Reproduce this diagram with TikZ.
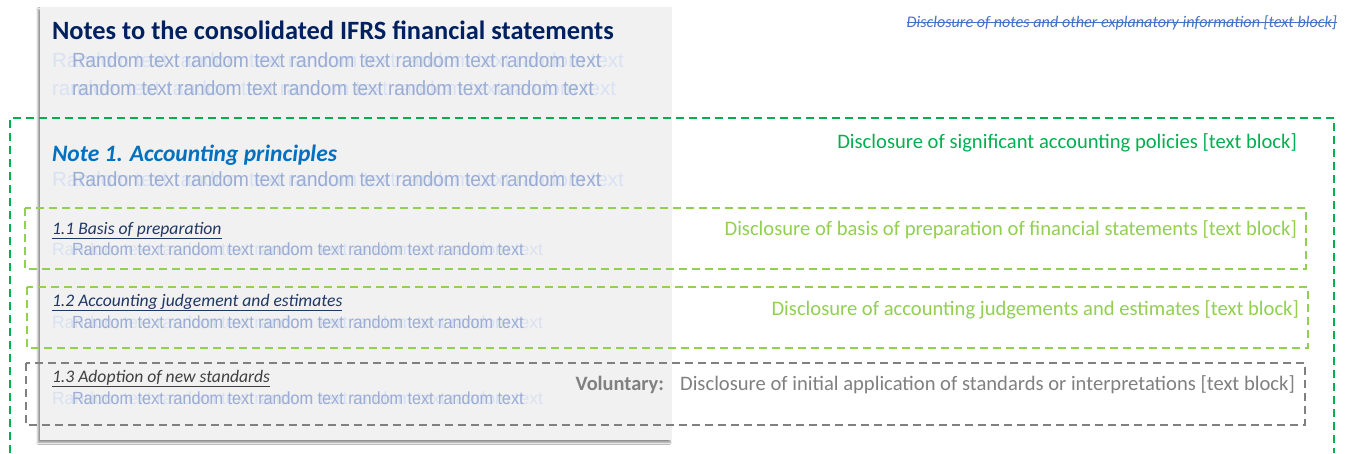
\documentclass[tikz,border=0pt]{standalone}
\usepackage{fontspec}
\setmainfont{Carlito}
\newfontfamily\rfont{Liberation Sans}
\usetikzlibrary{shadows.blur}
\definecolor{navy}{HTML}{002060}
\definecolor{noteblue}{HTML}{0070C0}
\definecolor{subnavy}{HTML}{1F3864}
\definecolor{darkgray}{HTML}{404040}
\definecolor{midgray}{HTML}{808080}
\definecolor{sgreen}{HTML}{00B050}
\definecolor{lgreen}{HTML}{92D050}
\definecolor{linkblue}{HTML}{4472C4}
\definecolor{panelgray}{HTML}{F1F1F1}
\definecolor{faintblue}{HTML}{D9E2F3}
\definecolor{ghostblue}{HTML}{8EA2CF}
\tikzset{
  txt/.style={inner sep=0pt, outer sep=0pt},
  dashbox/.style={line width=1.6pt, dash pattern=on 8pt off 5pt},
  faint/.style={txt, text=faintblue},
  ghost/.style={txt, text=ghostblue, opacity=0.85},
  bigr/.style={font=\rfont\fontsize{20.5}{24}\selectfont},
  smallr/.style={font=\rfont\fontsize{17.6}{21}\selectfont},
  subhead/.style={txt, anchor=base west, font=\fontsize{17.6}{21}\selectfont\itshape},
  rlabel/.style={txt, anchor=base east, font=\fontsize{20.6}{24}\selectfont},
}
\newcommand{\rtext}{Random text random text random text random text random text}
\newcommand{\rtextlc}{random text random text random text random text random text}
\begin{document}
\begin{tikzpicture}[x=1pt,y=-1pt]
\useasboundingbox (0,0) rectangle (1347,453);
\fill[white] (0,0) rectangle (1347,453);
% panel
\path[fill=panelgray, blur shadow={shadow xshift=-2pt, shadow yshift=-2.5pt, shadow blur steps=6, shadow opacity=45}] (40,7) rectangle (672,440);

% title
\node[txt, anchor=base west, text=navy, font=\fontsize{26.4}{30}\selectfont\bfseries] (title) at (52,39) {Notes to the consolidated IFRS financial statements};
% random lines under title
\node[faint, bigr, anchor=base west] (r1a) at (52,67) {\rtext};
\node[ghost, bigr, anchor=base west] (r1b) at (72,67) {\scalebox{0.925}[1]{\rtext}};
\node[faint, bigr, anchor=base west] (r2a) at (52,95) {\rtextlc};
\node[ghost, bigr, anchor=base west] (r2b) at (72,95) {\scalebox{0.925}[1]{\rtextlc}};

% Note 1
\node[txt, anchor=base west, text=noteblue, font=\fontsize{23.5}{27}\selectfont\bfseries\itshape] (note1) at (52,161) {Note 1. Accounting principles};
\node[faint, bigr, anchor=base west] (r3a) at (52,186) {\rtext};
\node[ghost, bigr, anchor=base west] (r3b) at (72,186) {\scalebox{0.925}[1]{\rtext}};

% 1.1
\node[subhead, text=subnavy] (h11) at (52,234) {\underline{1.1 Basis of preparation}};
\node[faint, smallr, anchor=base west] (r4a) at (52,255) {\rtext};
\node[ghost, smallr, anchor=base west] (r4b) at (72,255) {\scalebox{0.92}[1]{\rtext}};

% 1.2
\node[subhead, text=subnavy] (h12) at (52,306) {\underline{1.2 Accounting judgement and estimates}};
\node[faint, smallr, anchor=base west] (r5a) at (52,328) {\rtext};
\node[ghost, smallr, anchor=base west] (r5b) at (72,328) {\scalebox{0.92}[1]{\rtext}};

% 1.3
\node[subhead, text=darkgray] (h13) at (52,382) {\underline{1.3 Adoption of new standards}};
\node[faint, smallr, anchor=base west] (r6a) at (52,404) {\rtext};
\node[ghost, smallr, anchor=base west] (r6b) at (72,404) {\scalebox{0.92}[1]{\rtext}};

% dashed boxes
\draw[dashbox, sgreen, line width=2pt] (10,453) -- (10,118) -- (1334,118) -- (1334,453);
\draw[dashbox, lgreen] (25,208) rectangle (1306,269);
\draw[dashbox, lgreen] (27,287) rectangle (1308,348);
\draw[dashbox, midgray] (26,363) rectangle (1305,425);

% right labels
\node[txt, anchor=base east, text=linkblue, font=\fontsize{16.2}{19}\selectfont\itshape] (top) at (1337,27) {Disclosure of notes and other explanatory information [text block]};
\draw[linkblue, line width=0.9pt] ([yshift=4.8pt]top.base west) -- ([yshift=4.8pt]top.base east);
\node[rlabel, text=sgreen] (lsig) at (1297,148) {Disclosure of significant accounting policies [text block]};
\node[rlabel, text=lgreen] (lbasis) at (1297,235) {Disclosure of basis of preparation of financial statements [text block]};
\node[rlabel, text=lgreen] (ljudg) at (1299,315) {Disclosure of accounting judgements and estimates [text block]};
\node[rlabel, text=midgray] (lapp) at (1295,390) {Disclosure of initial application of standards or interpretations [text block]};
\node[rlabel, text=midgray, font=\fontsize{20.4}{24}\selectfont\bfseries] (lvol) at (664,390) {Voluntary:};
\end{tikzpicture}
\end{document}
